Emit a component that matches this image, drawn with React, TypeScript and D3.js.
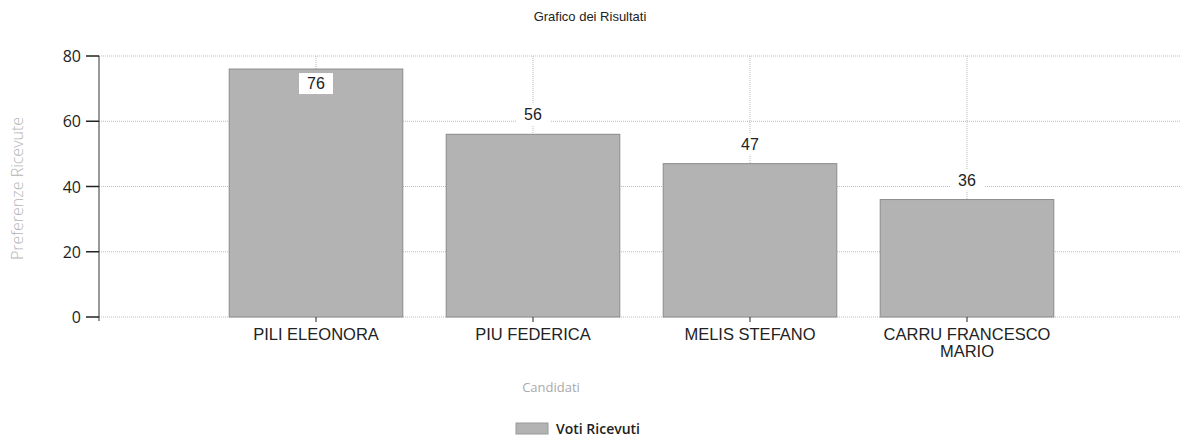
import React, { useRef, useEffect } from "react";
import * as d3 from "d3";

const candidati = ["PILI ELEONORA", "PIU FEDERICA", "MELIS STEFANO", "CARRU FRANCESCO MARIO"];
const voti = [76, 56, 47, 36];
const yTicks = [0, 20, 40, 60, 80];

function App() {
    const svgRef = useRef<SVGSVGElement>(null);

    useEffect(() => {
        const width = 1180;
        const height = 445;
        const margin = { top: 56, right: -4, bottom: 128, left: 99 };
        const svg = d3.select(svgRef.current);
        svg.selectAll("*").remove();

        const x = d3.scalePoint<string>()
            .domain(candidati)
            .range([margin.left, width - margin.right])
            .padding(1);
        const y = d3.scaleLinear().domain([0, 80]).range([height - margin.bottom, margin.top]);
        const barW = x.step() * 0.8;
        const font = "Arial, 'Liberation Sans', sans-serif";

        // title
        svg.append("text")
            .attr("x", 590).attr("y", 21)
            .attr("text-anchor", "middle")
            .style("font-family", font).style("font-size", "13px").attr("fill", "#222")
            .text("Grafico dei Risultati");

        // grid
        const grid = svg.append("g").attr("stroke", "#bbb").attr("stroke-dasharray", "1,1");
        grid.selectAll("line.h").data(yTicks).enter().append("line")
            .attr("x1", margin.left).attr("x2", width)
            .attr("y1", (d) => y(d)).attr("y2", (d) => y(d));
        grid.selectAll("line.v").data(candidati).enter().append("line")
            .attr("x1", (d) => x(d)!).attr("x2", (d) => x(d)!)
            .attr("y1", margin.top).attr("y2", y(0));

        // bars
        svg.append("g").selectAll("rect").data(voti).enter().append("rect")
            .attr("x", (_, i) => x(candidati[i])! - barW / 2)
            .attr("y", (d) => y(d))
            .attr("width", barW)
            .attr("height", (d) => y(0) - y(d))
            .attr("fill", "#b3b3b3")
            .attr("stroke", "#8a8a8a")
            .attr("stroke-width", 1);

        // value labels
        const labels = svg.append("g");
        voti.forEach((v, i) => {
            const cx = x(candidati[i])!;
            const inside = y(v) - margin.top < 25;
            const cy = inside ? y(v) + 14 : y(v) - 20;
            labels.append("rect")
                .attr("x", cx - 17).attr("y", cy - 10)
                .attr("width", 34).attr("height", 21)
                .attr("fill", "#fff");
            labels.append("text")
                .attr("x", cx).attr("y", cy + 6)
                .attr("text-anchor", "middle")
                .style("font-family", font).style("font-size", "16px").attr("fill", "#222")
                .text(v);
        });

        // y axis
        const yAxis = svg.append("g");
        yAxis.append("line")
            .attr("x1", margin.left).attr("x2", margin.left)
            .attr("y1", margin.top).attr("y2", y(0) + 4)
            .attr("stroke", "#333");
        yAxis.selectAll("line.t").data(yTicks).enter().append("line")
            .attr("x1", margin.left - 13).attr("x2", margin.left)
            .attr("y1", (d) => y(d)).attr("y2", (d) => y(d))
            .attr("stroke", "#222").attr("stroke-width", 1.5);
        yAxis.selectAll("text").data(yTicks).enter().append("text")
            .attr("x", margin.left - 18).attr("y", (d) => y(d) + 6)
            .attr("text-anchor", "end")
            .style("font-family", "'Open Sans', sans-serif").style("font-size", "16px").attr("fill", "#222")
            .text((d) => d);

        svg.append("text")
            .attr("transform", `translate(23,${(margin.top + y(0)) / 2 + 2}) rotate(-90)`)
            .attr("text-anchor", "middle")
            .style("font-family", "'Open Sans', sans-serif").style("font-size", "16px")
            .style("font-weight", 300).attr("fill", "#b5b5b5")
            .text("Preferenze Ricevute");

        // x axis
        const xAxis = svg.append("g");
        xAxis.selectAll("line").data(candidati).enter().append("line")
            .attr("x1", (d) => x(d)!).attr("x2", (d) => x(d)!)
            .attr("y1", y(0)).attr("y2", y(0) + 5)
            .attr("stroke", "#222");
        xAxis.selectAll("text").data(candidati).enter().append("text")
            .attr("x", (d) => x(d)!)
            .attr("y", y(0) + 23)
            .attr("text-anchor", "middle")
            .style("font-family", font).style("font-size", "16.5px").attr("fill", "#222")
            .each(function (d) {
                const words = d.split(" ");
                const lines = words.length > 2 ? [words.slice(0, 2).join(" "), words.slice(2).join(" ")] : [d];
                lines.forEach((l, j) => {
                    d3.select(this).append("tspan")
                        .attr("x", x(d)!)
                        .attr("dy", j === 0 ? 0 : 17)
                        .text(l);
                });
            });

        svg.append("text")
            .attr("x", 551).attr("y", 392)
            .attr("text-anchor", "middle")
            .style("font-family", "'Open Sans', sans-serif").style("font-size", "13px").attr("fill", "#aaa")
            .text("Candidati");

        // legend
        svg.append("rect")
            .attr("x", 516).attr("y", 423).attr("width", 32).attr("height", 11)
            .attr("fill", "#b3b3b3").attr("stroke", "#999");
        svg.append("text")
            .attr("x", 556).attr("y", 434)
            .style("font-family", "'Open Sans', sans-serif").style("font-size", "14px")
            .style("font-weight", 600).attr("fill", "#222")
            .text("Voti Ricevuti");
    }, []);

    return (
        <svg ref={svgRef} width={1180} height={445} style={{ position: "absolute", left: 0, top: 0 }}></svg>
    );
}

export default App;
